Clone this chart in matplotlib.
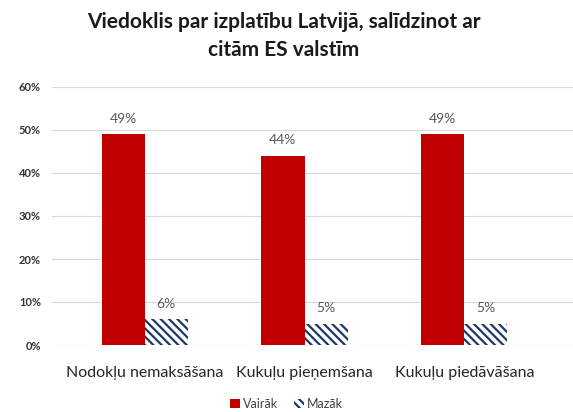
import matplotlib.pyplot as plt
import numpy as np

plt.rcParams['font.family'] = ['Lato', 'DejaVu Sans']
plt.rcParams['hatch.linewidth'] = 1.6

# dati
kategorijas = ['Nodokļu nemaksāšana', 'Kukuļu pieņemšana', 'Kukuļu piedāvāšana']
vairak = [49, 44, 49]
mazak = [6, 5, 5]
yticks = [0, 10, 20, 30, 40, 50, 60]

fig = plt.figure(figsize=(5.73, 4.12), dpi=100)
ax = fig.add_axes([52 / 573, 1 - 345 / 412, (573 - 52) / 573, (345 - 87) / 412])

x = np.arange(len(kategorijas))
w = 0.27
b1 = ax.bar(x - w / 2, vairak, w, color='#C00000', label='Vairāk', zorder=3)
b2 = ax.bar(x + w / 2, mazak, w, color='white', edgecolor='#1F3864', hatch='\\\\\\\\',
            linewidth=0, label='Mazāk', zorder=3)

for bars, vals in [(b1, vairak), (b2, mazak)]:
    for r, v in zip(bars, vals):
        ax.text(r.get_x() + r.get_width() / 2, v + 2.2, f'{v}%', ha='center',
                va='bottom', fontsize=10, color='#595959')

ax.set_ylim(0, 60)
ax.set_xlim(-0.58, 2.68)
ax.set_yticks(yticks)
ax.set_yticklabels([f'{t}%' for t in yticks], fontsize=8, fontweight='bold', color='#333333')
ax.set_xticks(x)
ax.set_xticklabels(kategorijas, fontsize=11.5, color='#262626')
ax.tick_params(length=0)
ax.tick_params(axis='x', pad=15)
ax.tick_params(axis='y', pad=8)
ax.grid(axis='y', color='#D9D9D9', linewidth=0.8, zorder=0)
for s in ax.spines.values():
    s.set_visible(False)

fig.text(0.495, 1 - 22 / 412, 'Viedoklis par izplatību Latvijā, salīdzinot ar',
         ha='center', va='center', fontsize=15, fontweight='bold', color='#1a1a1a')
fig.text(0.495, 1 - 50 / 412, 'citām ES valstīm',
         ha='center', va='center', fontsize=15, fontweight='bold', color='#1a1a1a')

fig.legend(loc='center', bbox_to_anchor=(0.5, 1 - 404 / 412), ncol=2, frameon=False,
           fontsize=9, handlelength=0.8, handleheight=0.8, columnspacing=1.2,
           handletextpad=0.3, labelcolor='#404040')

fig.savefig('out.png', dpi=100)
